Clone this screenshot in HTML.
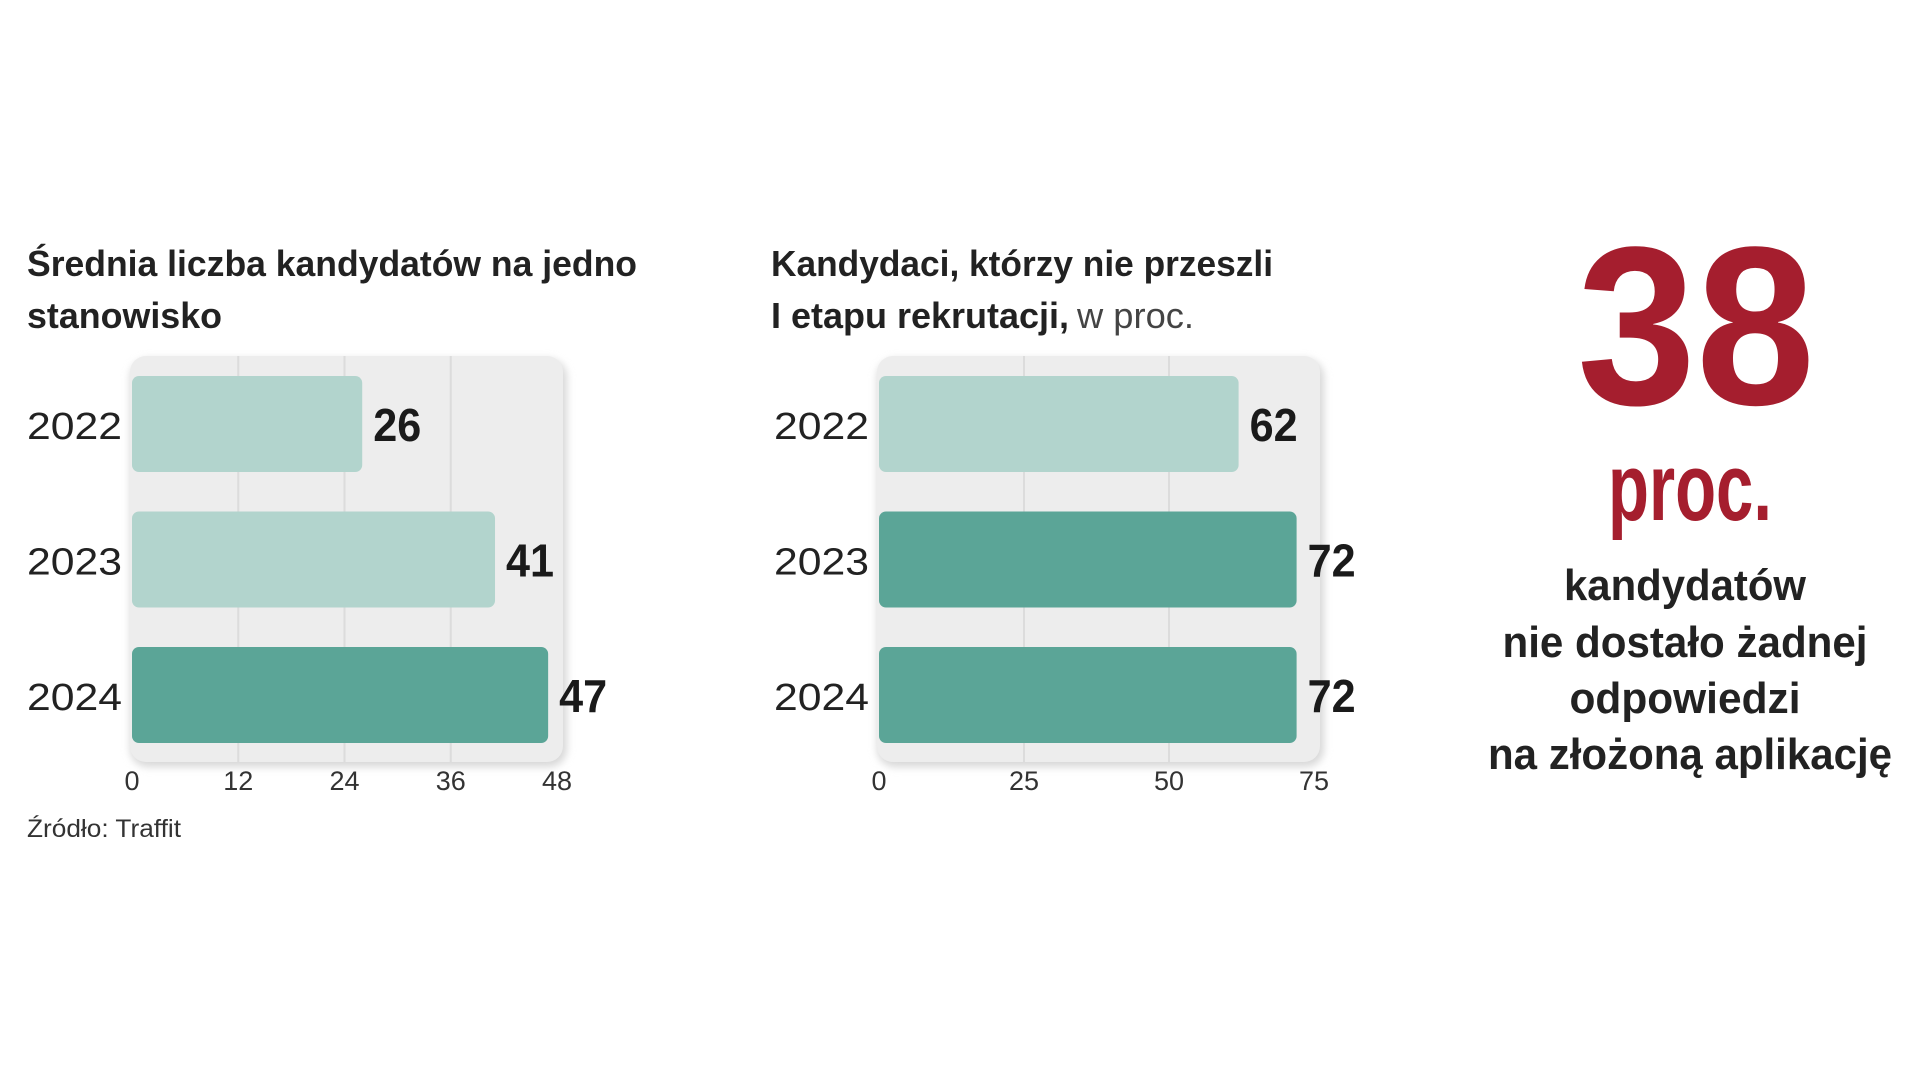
<!DOCTYPE html>
<html><head><meta charset="utf-8"><style>
html,body{margin:0;padding:0;background:#fff;}
svg{display:block;}
text{font-family:"Liberation Sans",sans-serif;}
</style></head><body>
<svg id="chart" width="1920" height="1080" viewBox="0 0 1920 1080">
<defs>
<filter id="sh" x="-10%" y="-10%" width="120%" height="120%"><feGaussianBlur stdDeviation="4"/></filter>
</defs>
<g>
<text x="27" y="276" font-size="36" font-weight="bold" fill="#222" textLength="610" lengthAdjust="spacingAndGlyphs">Średnia liczba kandydatów na jedno</text>
<text x="27" y="328" font-size="36" font-weight="bold" fill="#222" textLength="195" lengthAdjust="spacingAndGlyphs">stanowisko</text>
</g>
<g>
<text x="771" y="276" font-size="36" font-weight="bold" fill="#222" textLength="502" lengthAdjust="spacingAndGlyphs">Kandydaci, którzy nie przeszli</text>
<text x="771" y="328" font-size="36" fill="#222"><tspan font-weight="bold" textLength="298" lengthAdjust="spacingAndGlyphs">I etapu rekrutacji,</tspan><tspan font-weight="normal" fill="#444" dx="8" textLength="117" lengthAdjust="spacingAndGlyphs">w proc.</tspan></text>
</g>
<g id="left"></g>
<g id="right"></g>
<text x="27" y="837" font-size="25" fill="#333" textLength="154" lengthAdjust="spacingAndGlyphs">Źródło: Traffit</text>
<g>
<text x="1696" y="404" font-size="226" font-weight="bold" fill="#a51e2e" text-anchor="middle" textLength="238" lengthAdjust="spacingAndGlyphs">38</text>
<text x="1690" y="520" font-size="96" font-weight="bold" fill="#a51e2e" text-anchor="middle" textLength="164" lengthAdjust="spacingAndGlyphs">proc.</text>
<text x="1685" y="600" font-size="44" font-weight="bold" fill="#222" text-anchor="middle" textLength="242" lengthAdjust="spacingAndGlyphs">kandydatów</text>
<text x="1685" y="657" font-size="44" font-weight="bold" fill="#222" text-anchor="middle" textLength="365" lengthAdjust="spacingAndGlyphs">nie dostało żadnej</text>
<text x="1685" y="713" font-size="44" font-weight="bold" fill="#222" text-anchor="middle" textLength="231" lengthAdjust="spacingAndGlyphs">odpowiedzi</text>
<text x="1690" y="769" font-size="44" font-weight="bold" fill="#222" text-anchor="middle" textLength="404" lengthAdjust="spacingAndGlyphs">na złożoną aplikację</text>
</g>
</svg>
<script>
const years = ["2022","2023","2024"];
const leftValues = [26, 41, 47];
const leftTicks = [0, 12, 24, 36, 48];
const leftShades = ["light","light","dark"];
const rightValues = [62, 72, 72];
const rightTicks = [0, 25, 50, 75];
const rightShades = ["light","dark","dark"];

const NS = "http://www.w3.org/2000/svg";
const COL = {light:"#b2d4cd", dark:"#5ba597"};
function mk(tag, attrs, parent){const e=document.createElementNS(NS,tag);for(const k in attrs)e.setAttribute(k,attrs[k]);parent.appendChild(e);return e;}

function drawChart(g, cats, vals, ticks, shades, x0, x1, labelX){
  const maxV = ticks[ticks.length-1];
  const xs = v => x0 + (v/maxV)*(x1-x0);
  const top = 356, bottom = 762, barH = 96, pitch = 135.5, firstY = 376;
  const ys = i => firstY + i*pitch;
  const sh = mk("rect",{x:x0-2,y:top+3,width:x1-x0+12,height:bottom-top+2,rx:18,fill:"#d8d8d8",filter:"url(#sh)"},g);
  
  
  const panel = mk("rect",{x:x0-2,y:top,width:x1-x0+8,height:bottom-top,rx:16,fill:"#ededed"},g);
  
  
  ticks.forEach((t,i)=>{
    if(i>0 && i<ticks.length-1){
      const gl = mk("line",{x1:xs(t),x2:xs(t),y1:top,y2:bottom,stroke:"#dcdcdc","stroke-width":2},g);
      
      
    }
    const tl = mk("text",{x:xs(t),y:790,"font-size":27,fill:"#333","text-anchor":"middle"},g);
    tl.textContent = t;
    
    
  });
  cats.forEach((c,i)=>{
    const y = ys(i);
    const b = mk("rect",{x:x0,y:y,width:xs(vals[i])-x0,height:barH,rx:7,fill:COL[shades[i]]},g);
    
    
    const yl = mk("text",{x:labelX,y:y+barH/2+15,"font-size":38,fill:"#222",textLength:95,lengthAdjust:"spacingAndGlyphs"},g);
    yl.textContent = c;
    
    
    const vl = mk("text",{x:xs(vals[i])+11,y:y+barH/2+17,"font-size":46,"font-weight":"bold",fill:"#1a1a1a",textLength:48,lengthAdjust:"spacingAndGlyphs"},g);
    vl.textContent = vals[i];
    
    
  });
}
drawChart(document.getElementById('left'), years, leftValues, leftTicks, leftShades, 132, 557, 27);
drawChart(document.getElementById('right'), years, rightValues, rightTicks, rightShades, 879, 1314, 774);
</script>
</body></html>
